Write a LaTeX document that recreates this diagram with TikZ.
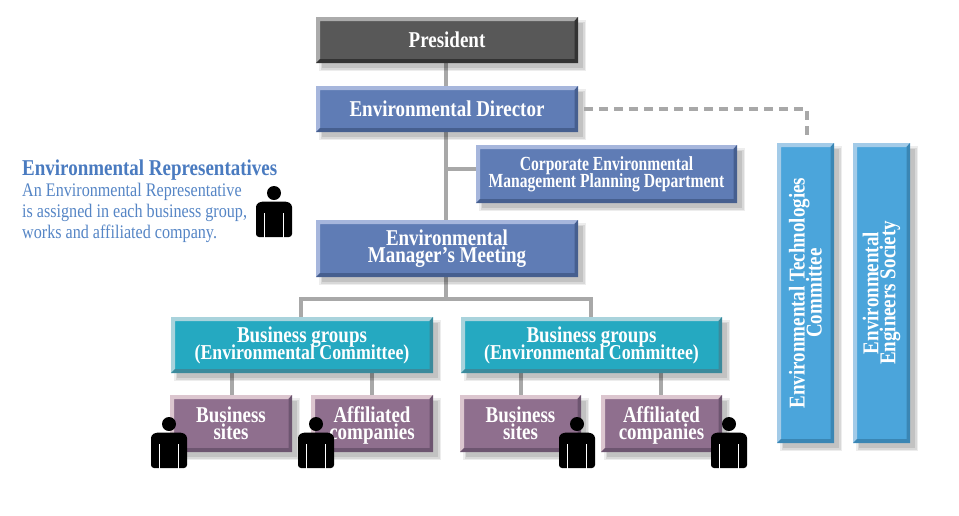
\documentclass[tikz,border=0pt]{standalone}
\usepackage{fontspec}
\setmainfont[FakeStretch=0.84]{Liberation Serif}
\newfontfamily\narrowserif[FakeStretch=0.78]{Liberation Serif}
\usetikzlibrary{backgrounds,calc}
\normallineskiplimit=-50pt
\lineskiplimit=-50pt
\definecolor{grayM}{HTML}{585858}\definecolor{grayL}{HTML}{ABABAB}\definecolor{grayD}{HTML}{333333}
\definecolor{dirM}{HTML}{5F7CB5}\definecolor{dirL}{HTML}{A6B6DC}\definecolor{dirD}{HTML}{465F8F}
\definecolor{tealM}{HTML}{25A9C1}\definecolor{tealL}{HTML}{A9D3DC}\definecolor{tealD}{HTML}{3B8A9C}
\definecolor{purM}{HTML}{8F6F8E}\definecolor{purL}{HTML}{DCC6CF}\definecolor{purD}{HTML}{6D5570}
\definecolor{bluM}{HTML}{4BA5DB}\definecolor{bluL}{HTML}{A3CBE8}\definecolor{bluD}{HTML}{3A86B4}
\definecolor{linkC}{HTML}{A8A8A8}\definecolor{repT}{HTML}{4A7BC0}\definecolor{repB}{HTML}{5585C5}
\newcommand\mainsize{\fontsize{22.6}{17}\selectfont}
\newcommand\lineB{\fontsize{21.2}{17}\selectfont}
\tikzset{
  x=1pt,y=-1pt,
  boxtext/.style={inner sep=0pt,outer sep=0pt,align=center,text=white,font=\bfseries\mainsize},
  corptext/.style={font=\narrowserif\bfseries\fontsize{20}{17}\selectfont},
  link/.style={draw=linkC,line width=4.5pt},
  dashlink/.style={draw=linkC,line width=4.5pt,dash pattern=on 9pt off 6pt},
  reptitle/.style={anchor=base west,inner sep=0pt,text=repT,font=\bfseries\fontsize{22.6}{20}\selectfont},
  repbody/.style={anchor=base west,inner sep=0pt,text=repB,font=\fontsize{19.2}{20}\selectfont},
  person/.pic={
    \fill[black] (0,7) circle (7);
    \fill[black,rounded corners=3pt] (-18,51) -- (-18,18) -- (-13,15.5) -- (13,15.5) -- (18,18) -- (18,51) -- cycle;
    \draw[white,line width=.8pt] (-9.5,27) -- (-9.5,51.5) (9.5,27) -- (9.5,51.5);
  }
}
% [node options]{name}{x0}{y0}{x1}{y1}{colour prefix}{text}
\newcommand\bevelbox[8][]{%
  \fill[black,opacity=.07] (#3+3,#4+3) rectangle (#5+8,#6+8);
  \fill[black,opacity=.09] (#3+5,#4+5) rectangle (#5+6.5,#6+6.5);
  \fill[black,opacity=.10] (#3+6,#4+6) rectangle (#5+5,#6+5);
  \fill[#7M] (#3,#4) rectangle (#5,#6);
  \fill[#7L] (#3,#6) -- (#3,#4) -- (#5,#4) -- (#5-3.5,#4+4) -- (#3+4,#4+4) -- (#3+4,#6-4) -- cycle;
  \fill[#7D] (#3,#6) -- (#5,#6) -- (#5,#4) -- (#5-3.5,#4+4) -- (#5-3.5,#6-4) -- (#3+4,#6-4) -- cycle;
  \pgfmathsetmacro\bw{#5-#3}\pgfmathsetmacro\bh{#6-#4}
  \node[boxtext,minimum width=\bw pt,minimum height=\bh pt,#1] (#2) at ({(#3+#5)/2},{(#4+#6)/2}) {#8};
}
\begin{document}
\begin{tikzpicture}
\useasboundingbox (0,0) rectangle (959,515);
\bevelbox{pres}{316}{17}{578}{63}{gray}{President}
\bevelbox{dir}{316}{86}{578}{132}{dir}{Environmental Director}
\bevelbox[corptext]{corp}{476}{145}{737}{203}{dir}{Corporate Environmental\\Management Planning Department}
\bevelbox{mgr}{316}{220}{578}{277}{dir}{Environmental\\Manager's Meeting}
\bevelbox{bgA}{171}{317}{433}{373}{teal}{Business groups\\{\lineB(Environmental Committee)}}
\bevelbox{bgB}{461}{317}{722}{373}{teal}{Business groups\\{\lineB(Environmental Committee)}}
\bevelbox{siteA}{170}{395}{292}{452}{pur}{Business\\sites}
\bevelbox[yshift=-2pt]{affA}{311}{395}{433}{452}{pur}{Affiliated\\companies}
\bevelbox{siteB}{460}{395}{581}{452}{pur}{Business\\sites}
\bevelbox[yshift=-2pt]{affB}{601}{395}{722}{452}{pur}{Affiliated\\companies}
\bevelbox[rotate=90,minimum width=300pt,minimum height=57pt]{tech}{777}{143}{834}{443}{blu}{Environmental Technologies\\Committee}
\bevelbox[rotate=90,minimum width=300pt,minimum height=57pt]{soc}{853}{143}{910}{443}{blu}{Environmental\\Engineers Society}
\begin{scope}[on background layer]
  \coordinate (bus) at (446,299);
  \draw[link] (pres.south -| 446,0) -- (dir.north -| 446,0);
  \draw[link] (dir.south -| 446,0) -- (mgr.north -| 446,0);
  \draw[link] (446,169) -- (corp.west |- 0,169);
  \draw[link] (mgr.south -| 446,0) -- (bus);
  \draw[link,line join=miter] (bgA.north -| 301,0) -- (301,299) -- (591,299) -- (bgB.north -| 591,0);
  \draw[link] (bgA.south -| 232,0) -- (siteA.north -| 232,0);
  \draw[link] (bgA.south -| 372,0) -- (affA.north -| 372,0);
  \draw[link] (bgB.south -| 521,0) -- (siteB.north -| 521,0);
  \draw[link] (bgB.south -| 661,0) -- (affB.north -| 661,0);
\end{scope}
\draw[dashlink,shorten <=6pt,shorten >=5pt] (dir.east |- 0,109) -- (807,109) -- (tech.east -| 807,0);
\node[reptitle] (repHead) at (22,175) {Environmental Representatives};
\node[repbody] (repOne) at (22,196) {An Environmental Representative};
\node[repbody] (repTwo) at (22,217) {is assigned in each business group,};
\node[repbody] (repThree) at (22,238) {works and affiliated company.};
\pic at (274,186) {person};
\pic at (169,417) {person};
\pic at (316,417) {person};
\pic at (577,417) {person};
\pic at (729,417) {person};
\end{tikzpicture}
\end{document}
